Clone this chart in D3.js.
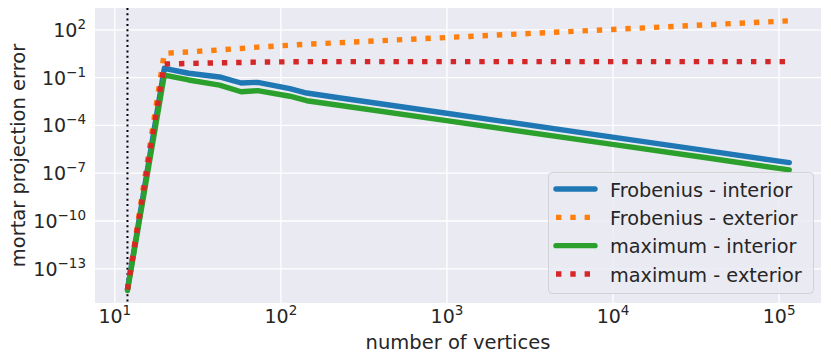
<!DOCTYPE html>
<html>
<head>
<meta charset="utf-8">
<script src="https://cdn.jsdelivr.net/npm/d3@7"></script>
<style>
  body { margin: 0; background: #fff; }
  svg { display: block; }
  text { font-family: "DejaVu Sans", sans-serif; fill: #262626; }
</style>
</head>
<body>
<div id="chart"></div>
<script>
// number of vertices (shared x values)
const vertices = [12, 20, 28, 43, 58, 73, 114, 144, 230, 1000, 10000, 35000, 116000];

// error values
const frobeniusInterior = [4.7e-15, 0.355, 0.174, 0.102, 0.0427, 0.0468, 0.0191, 0.0100, 0.0049, 5.4e-4, 1.7e-5, 2.6e-6, 4.3e-7];
const frobeniusExterior = [4.7e-15, 3.1, 3.8, 5.1, 6.3, 7.6, 10, 11.6, 14.5, 30.5, 98, 186, 340];
const maximumInterior   = [4.0e-15, 0.135, 0.066, 0.0316, 0.012, 0.0141, 0.0063, 0.0033, 0.00166, 1.86e-4, 6.0e-6, 9.3e-7, 1.5e-7];
const maximumExterior   = [4.7e-15, 0.66, 0.72, 0.79, 0.83, 0.87, 0.91, 0.93, 0.93, 0.93, 0.93, 0.93, 0.93];

const seriesNames = ["Frobenius - interior", "Frobenius - exterior", "maximum - interior", "maximum - exterior"];
const seriesValues = [frobeniusInterior, frobeniusExterior, maximumInterior, maximumExterior];
const seriesColors = ["#1f77b4", "#ff7f0e", "#2ca02c", "#d62728"];
const seriesDotted = [false, true, false, true];

const xTickExponents = [1, 2, 3, 4, 5];
const yTickExponents = [2, -1, -4, -7, -10, -13];
const cutoffVertices = 12;

const W = 831, H = 362;
const plot = { left: 95, right: 821, top: 8, bottom: 303 };

const svg = d3.select("#chart").append("svg")
    .attr("width", W).attr("height", H);

// axis limits (like xlim / ylim)
const x = d3.scaleLog()
    .domain([Math.pow(10, 0.8837), Math.pow(10, 5.2554)])
    .range([plot.left, plot.right]);
const y = d3.scaleLog()
    .domain([Math.pow(10, -15.178), Math.pow(10, 3.337)])
    .range([plot.bottom, plot.top]);

// background
svg.append("rect")
    .attr("x", plot.left).attr("y", plot.top)
    .attr("width", plot.right - plot.left).attr("height", plot.bottom - plot.top)
    .attr("fill", "#eaeaf2");

// grid + tick labels
const xAxis = svg.append("g")
    .attr("transform", `translate(0,${plot.bottom})`)
    .call(d3.axisBottom(x)
        .tickValues(xTickExponents.map(e => Math.pow(10, e)))
        .tickSize(-(plot.bottom - plot.top))
        .tickFormat(""));
const yAxis = svg.append("g")
    .attr("transform", `translate(${plot.left},0)`)
    .call(d3.axisLeft(y)
        .tickValues(yTickExponents.map(e => Math.pow(10, e)))
        .tickSize(-(plot.right - plot.left))
        .tickFormat(""));

[xAxis, yAxis].forEach(g => {
    g.select(".domain").remove();
    g.selectAll(".tick line").attr("stroke", "#fff").attr("stroke-width", 1.3);
});

function powerLabel(sel, exp) {
    sel.append("tspan").text("10");
    sel.append("tspan")
        .attr("dy", -8)
        .attr("font-size", 13.5)
        .text(exp);
}

xAxis.selectAll(".tick").each(function(d) {
    const t = d3.select(this).append("text")
        .attr("y", 20)
        .attr("text-anchor", "middle")
        .attr("font-size", 19)
        .attr("fill", "#262626");
    powerLabel(t, Math.round(Math.log10(d)));
});
yAxis.selectAll(".tick").each(function(d) {
    const t = d3.select(this).append("text")
        .attr("x", -9)
        .attr("y", 7)
        .attr("text-anchor", "end")
        .attr("font-size", 19)
        .attr("fill", "#262626");
    powerLabel(t, String(Math.round(Math.log10(d))).replace("-", "\u2212"));
});

// axis labels
svg.append("text")
    .attr("x", (plot.left + plot.right) / 2)
    .attr("y", 349)
    .attr("text-anchor", "middle")
    .attr("font-size", 19.5)
    .text("number of vertices");
svg.append("text")
    .attr("transform", `translate(25,${(plot.top + plot.bottom) / 2}) rotate(-90)`)
    .attr("text-anchor", "middle")
    .attr("font-size", 19.5)
    .text("mortar projection error");

// data lines
const clip = svg.append("clipPath").attr("id", "clip")
    .append("rect")
    .attr("x", plot.left).attr("y", plot.top)
    .attr("width", plot.right - plot.left).attr("height", plot.bottom - plot.top);

const line = d3.line()
    .x(d => x(d[0]))
    .y(d => y(d[1]));

const lines = svg.append("g").attr("clip-path", "url(#clip)");

lines.append("line")
    .attr("x1", x(cutoffVertices)).attr("x2", x(cutoffVertices))
    .attr("y1", plot.top).attr("y2", plot.bottom)
    .attr("stroke", "#000")
    .attr("stroke-width", 2)
    .attr("stroke-dasharray", "2,3.3");

seriesValues.forEach((vals, i) => {
    const pts = vertices.map((v, k) => [v, vals[k]]);
    lines.append("path")
        .attr("d", line(pts))
        .attr("fill", "none")
        .attr("stroke", seriesColors[i])
        .attr("stroke-width", 5.4)
        .attr("stroke-linejoin", "round")
        .attr("stroke-linecap", seriesDotted[i] ? "butt" : "round")
        .attr("stroke-dasharray", seriesDotted[i] ? "5.4,8.9" : null);
});

// legend
const lg = svg.append("g");
lg.append("rect")
    .attr("x", 548.5).attr("y", 172.5)
    .attr("width", 265).attr("height", 121)
    .attr("rx", 4).attr("ry", 4)
    .attr("fill", "#eaeaf2").attr("fill-opacity", 0.8)
    .attr("stroke", "#cccccc").attr("stroke-opacity", 0.8)
    .attr("stroke-width", 1);

seriesNames.forEach((name, i) => {
    const base = 196.7 + i * 28.33;
    lg.append("line")
        .attr("x1", 556).attr("x2", seriesDotted[i] ? 597 : 595)
        .attr("y1", base - 7.7).attr("y2", base - 7.7)
        .attr("stroke", seriesColors[i])
        .attr("stroke-width", 5.4)
        .attr("stroke-linecap", seriesDotted[i] ? "butt" : "round")
        .attr("stroke-dasharray", seriesDotted[i] ? "5.4,8.9" : null);
    lg.append("text")
        .attr("x", 610)
        .attr("y", base)
        .attr("font-size", 19.3)
        .text(name);
});
</script>
</body>
</html>
